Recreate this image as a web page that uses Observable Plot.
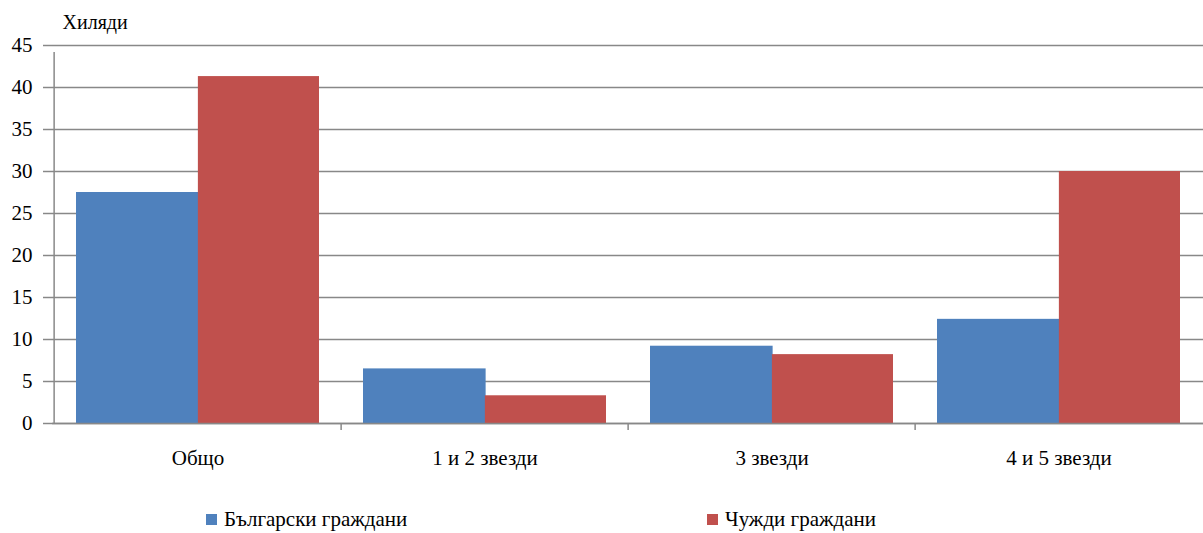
<!DOCTYPE html>
<html>
<head>
<meta charset="utf-8">
<script src="https://cdn.jsdelivr.net/npm/d3@7"></script>
<script src="https://cdn.jsdelivr.net/npm/@observablehq/plot@0.6"></script>
<style>
  html, body { margin: 0; padding: 0; background: #fff; }
  body { width: 1203px; height: 533px; overflow: hidden; font-family: "Liberation Serif", "DejaVu Serif", "Noto Serif", serif; color: #000; }
  #legend { position: relative; width: 1203px; height: 63px; }
  .item { position: absolute; top: 38px; font-size: 21px; line-height: 23px; white-space: nowrap; font-family: "Liberation Serif", "DejaVu Serif", "Noto Serif", serif; }
  .sw { display: inline-block; width: 11px; height: 11px; margin-right: 7px; vertical-align: 1px; }
  svg text { font-family: "Liberation Serif", "DejaVu Serif", "Noto Serif", serif !important; }
</style>
</head>
<body>
<div id="chart"></div>
<div id="legend"></div>
<script>
const categories = ["Общо", "1 и 2 звезди", "3 звезди", "4 и 5 звезди"];
const seriesNames = ["Български граждани", "Чужди граждани"];
const bulgarian = [27.5, 6.5, 9.2, 12.4];
const foreign = [41.3, 3.3, 8.2, 30.0];
const yTicks = [0, 5, 10, 15, 20, 25, 30, 35, 40, 45];
const yLabel = "Хиляди";
const colors = ["#4F81BD", "#C0504D"];

const W = 1203, H = 470, mL = 52, mR = 0, mT = 45, mB = 47;
const bw = (W - mL - mR) / categories.length;
const pad = 22;
const barW = (bw - 2 * pad) / 2;

const data = categories.flatMap((c, i) => [
  {category: c, series: seriesNames[0], value: bulgarian[i]},
  {category: c, series: seriesNames[1], value: foreign[i]}
]);

const FF = "'Liberation Serif', 'DejaVu Serif', 'Noto Serif', serif";
const font = {fontFamily: FF, fontSize: 20};

const chart = Plot.plot({
  width: W, height: H,
  marginLeft: mL, marginRight: mR, marginTop: mT, marginBottom: mB,
  style: {background: "#fff", color: "#000", fontFamily: FF, fontSize: "20px", overflow: "visible"},
  x: {type: "band", domain: categories, padding: 0, label: null},
  y: {domain: [0, 45], label: null},
  color: {domain: seriesNames, range: colors},
  marks: [
    Plot.gridY(yTicks, {stroke: "#888", strokeOpacity: 1, strokeWidth: 1.5}),
    Plot.barY(data.filter(d => d.series === seriesNames[0]), {
      x: "category", y: "value", fill: "series",
      insetLeft: pad, insetRight: pad + barW - 1.5
    }),
    Plot.barY(data.filter(d => d.series === seriesNames[1]), {
      x: "category", y: "value", fill: "series",
      insetLeft: pad + barW, insetRight: pad
    }),
    Plot.ruleY([0], {stroke: "#888", strokeWidth: 1.5}),
    Plot.ruleX([categories[0]], {x: d => d, y1: 0, y2: 45, dx: -bw / 2, stroke: "#888", strokeWidth: 1.5, insetBottom: -7}),
    Plot.ruleX(categories.slice(1), {x: d => d, y1: 0, y2: 0, dx: -bw / 2, stroke: "#888", strokeWidth: 1.5, insetBottom: -7}),
    Plot.axisY({ticks: yTicks, tickSize: 9, tickPadding: 11, stroke: "#888", strokeWidth: 1.5, ...font, fontSize: 21, fill: "#000", label: null}),
    Plot.axisX({tickSize: 0, tickPadding: 27, ...font, fontSize: 21, fill: "#000", label: null}),
    Plot.text([yLabel], {text: d => d, frameAnchor: "top-left", textAnchor: "start", lineAnchor: "middle", dx: 10, dy: -23, ...font, fill: "#000"})
  ]
});
document.getElementById("chart").appendChild(chart);

const legend = document.getElementById("legend");
const lx = [206, 707];
seriesNames.forEach((s, i) => {
  const it = document.createElement("div");
  it.className = "item";
  it.style.left = lx[i] + "px";
  it.innerHTML = `<span class="sw" style="background:${colors[i]}"></span>${s}`;
  legend.appendChild(it);
});
</script>
</body>
</html>
